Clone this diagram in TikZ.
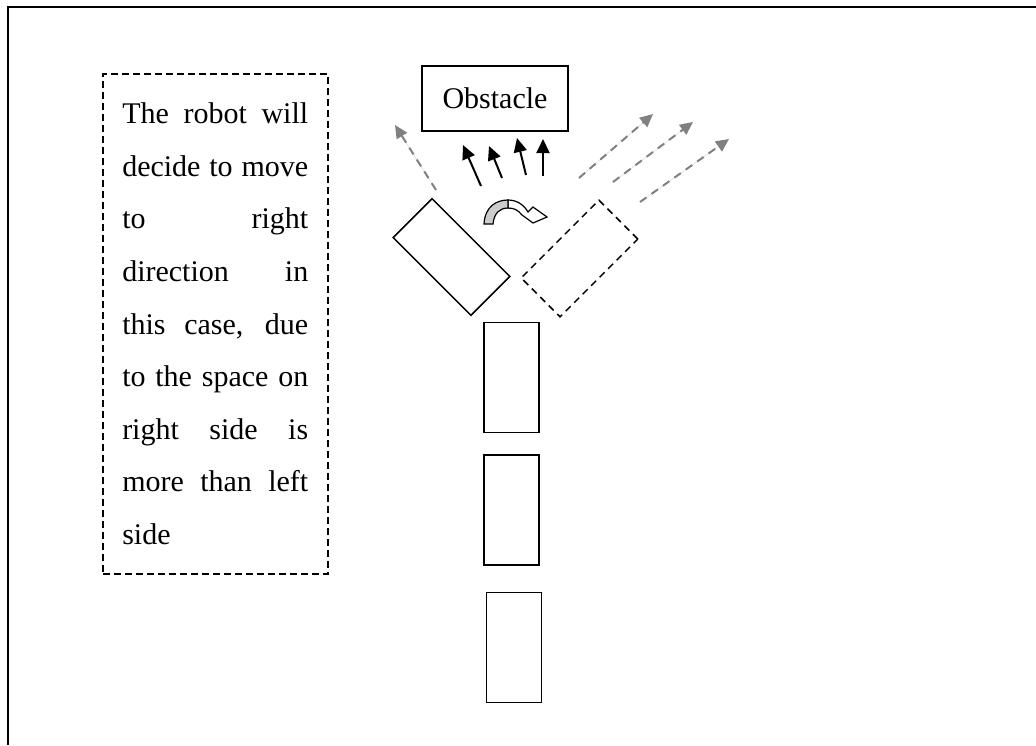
\documentclass[tikz,border=0pt]{standalone}
\usepackage{fontspec}
\setmainfont{Liberation Serif}
\usetikzlibrary{positioning, arrows.meta}

\begin{document}
\begin{tikzpicture}[
    x=0.5pt, y=-0.5pt,
    node distance=10.5pt,
    robot/.style={rectangle, draw, line width=0.75pt, minimum width=27.5pt, minimum height=55pt, inner sep=0pt},
    ghost/.style={robot, dash pattern=on 3.5pt off 2.5pt},
    notebox/.style={rectangle, draw, line width=0.75pt, dash pattern=on 3.5pt off 2pt,
      text width=93pt, align=justify, inner xsep=9.75pt, minimum height=250pt,
      font=\fontsize{15}{26.3}\selectfont},
    obsbox/.style={rectangle, draw, line width=0.75pt, minimum width=73pt, minimum height=32.5pt,
      font=\fontsize{15}{18}\selectfont},
    push/.style={-{Triangle[length=7pt,width=6.5pt]}, line width=1pt},
    scan/.style={-{Triangle[length=6.5pt,width=6pt]}, draw=gray, fill=gray, dash pattern=on 4pt off 3pt, line width=1pt}
  ]
  \useasboundingbox (0,0) rectangle (1036,745);
  % frame
  \draw[line width=1pt] (8,745) -- (8,7) -- (1036,7);

  % explanation
  \node[notebox, anchor=north west] (note) at (102,73) {The robot will\linebreak
    decide to move\linebreak to right\linebreak direction in\linebreak
    this case, due\linebreak to the space on\linebreak right side is\linebreak
    more than left\linebreak side};

  \node[obsbox] (obstacle) at (495,98.5) {Obstacle};

  % robot path
  \node[robot] (r1) at (511.5,377.5) {};
  \node[robot, below=of r1] (r2) {};
  \node[robot, below=13pt of r2, xshift=1.25pt] (r3) {};
  \node[robot, rotate=45] (leftturn) at (451.5,257) {};
  \node[ghost, rotate=-45] (rightturn) at (579.5,258.5) {};

  % sensing towards the obstacle
  \coordinate (s1a) at (481,186); \coordinate (s1b) at (463,145);
  \coordinate (s2a) at (502,178); \coordinate (s2b) at (489,146);
  \coordinate (s3a) at (526,175); \coordinate (s3b) at (517,138);
  \coordinate (s4a) at (543,176); \coordinate (s4b) at (543,139);
  \draw[push] (s1a) -- (s1b);
  \draw[push] (s2a) -- (s2b);
  \draw[push] (s3a) -- (s3b);
  \draw[push] (s4a) -- (s4b);

  % free space on both sides
  \coordinate (l1a) at (436,190); \coordinate (l1b) at (395,125);
  \coordinate (g1a) at (579,178); \coordinate (g1b) at (653,114);
  \coordinate (g2a) at (613,182); \coordinate (g2b) at (693,122);
  \coordinate (g3a) at (640,202); \coordinate (g3b) at (729,139);
  \draw[scan] (l1a) -- (l1b);
  \draw[scan] (g1a) -- (g1b);
  \draw[scan] (g2a) -- (g2b);
  \draw[scan] (g3a) -- (g3b);

  % turning arrow
  \draw[line width=0.6pt, fill=white] (508,200) .. controls (517,200) and (524,205) .. (528,212)
    -- (533,207) -- (547,217) -- (533,223) -- (522,215)
    .. controls (518,210) and (514,208) .. (508,208) -- cycle;
  \draw[line width=0.6pt, fill=gray!40] (484,224) .. controls (485,206) and (497,200) .. (508,200)
    -- (508,208) .. controls (500,208) and (494,213) .. (493,224) -- cycle;
\end{tikzpicture}
\end{document}
